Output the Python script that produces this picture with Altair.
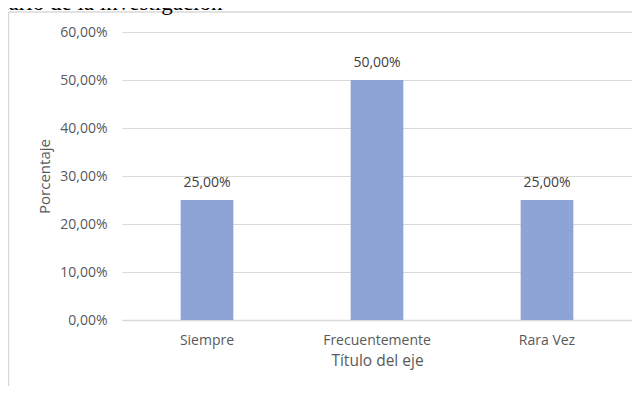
import altair as alt
import pandas as pd

categories = ["Siempre", "Frecuentemente", "Rara Vez"]
values = [0.25, 0.50, 0.25]
value_labels = ["25,00%", "50,00%", "25,00%"]
y_ticks = [0.0, 0.1, 0.2, 0.3, 0.4, 0.5, 0.6]
heading = "nario de la investigación"

df = pd.DataFrame({"cat": categories, "val": values, "lab": value_labels})

FONT = "Open Sans"

x_enc = alt.X(
    "cat:N",
    sort=categories,
    scale=alt.Scale(paddingInner=0.69, paddingOuter=0.345),
    axis=alt.Axis(
        title="Título del eje",
        labelAngle=0,
        labelFont=FONT,
        labelFontSize=14,
        labelColor="#595959",
        labelPadding=13,
        titleFont=FONT,
        titleFontSize=15.5,
        titleFontWeight="normal",
        titleColor="#595959",
        titlePadding=6,
        ticks=False,
        domain=True,
        domainColor="#d9d9d9",
        domainWidth=1.5,
        grid=False,
    ),
)

y_enc = alt.Y(
    "val:Q",
    scale=alt.Scale(domain=[0, 0.6], nice=False),
    axis=alt.Axis(
        title="Porcentaje",
        values=y_ticks,
        labelExpr="replace(format(datum.value, '.2%'), '.', ',')",
        labelFont=FONT,
        labelFontSize=14,
        labelColor="#595959",
        labelPadding=15,
        titleFont=FONT,
        titleFontSize=15,
        titleFontWeight="normal",
        titleColor="#595959",
        titleAngle=270,
        titleX=-78,
        titleY=144,
        titleAlign="center",
        titleBaseline="middle",
        ticks=False,
        domain=False,
        grid=True,
        gridColor="#d9d9d9",
        gridWidth=1,
    ),
)

base = alt.Chart(df)

bars = base.mark_bar(color="#8fa4d6").encode(x=x_enc, y=y_enc)

labels = base.mark_text(
    font=FONT, fontSize=14, color="#404040", baseline="bottom", dy=-10
).encode(x=alt.X("cat:N", sort=categories), y="val:Q", text="lab:N")

frame_df = pd.DataFrame({"a": [0]})
left_edge = alt.Chart(frame_df).mark_rule(color="#d9d9d9", strokeWidth=1.5).encode(
    x=alt.value(-113.5), y=alt.value(-20), y2=alt.value(354)
)
top_edge = alt.Chart(frame_df).mark_rule(color="#d9d9d9", strokeWidth=1.5).encode(
    x=alt.value(-113.5), x2=alt.value(510), y=alt.value(-20)
)

head = alt.Chart(frame_df).mark_text(
    text=heading,
    font="Liberation Serif",
    fontSize=23,
    align="left",
    baseline="alphabetic",
    color="black",
).encode(x=alt.value(-125), y=alt.value(-22))

chart = (
    alt.layer(left_edge, top_edge, bars, labels, head)
    .properties(
        width=510,
        height=288,
        padding={"left": 114, "top": 24, "right": 0, "bottom": 66},
        autosize=alt.AutoSizeParams(type="none"),
        background="white",
    )
    .configure_view(stroke=None)
)

chart.save("out.html", embed_options={"renderer": "svg", "actions": False})
